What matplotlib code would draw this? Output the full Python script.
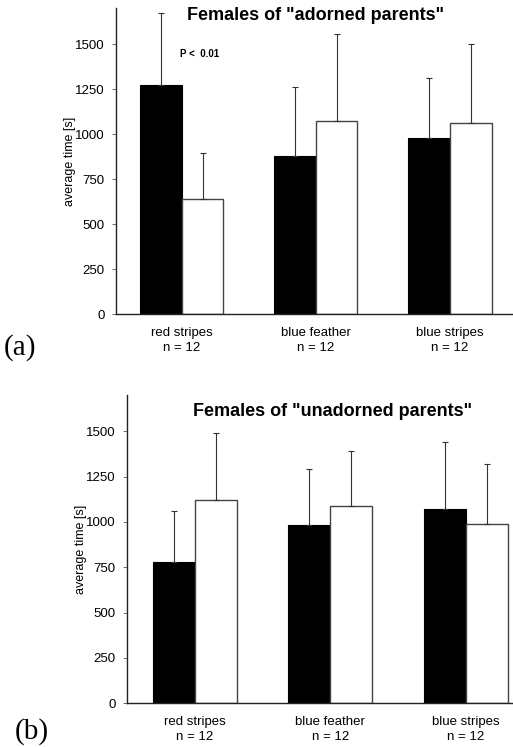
import matplotlib
matplotlib.use("Agg")
import matplotlib.pyplot as plt
import numpy as np

plt.rcParams['font.family'] = ['Liberation Sans', 'DejaVu Sans']

categories = ["red stripes\nn = 12", "blue feather\nn = 12", "blue stripes\nn = 12"]
yticks = [0, 250, 500, 750, 1000, 1250, 1500]

# panel (a): Females of "adorned parents"
a_black = [1270, 881, 981]
a_black_err = [402, 382, 332]
a_white = [642, 1074, 1061]
a_white_err = [256, 479, 441]

# panel (b): Females of "unadorned parents"
b_black = [778, 981, 1069]
b_black_err = [280, 309, 372]
b_white = [1119, 1086, 990]
b_white_err = [372, 305, 330]

fig = plt.figure(figsize=(5.13, 7.47), dpi=100)

def panel(rect, black, black_err, white, white_err, title, title_xy, xlim, label, label_xy, ylabel_x):
    ax = fig.add_axes(rect)
    x = np.arange(len(categories))
    w = 0.31
    ekw = dict(elinewidth=0.8, ecolor='#333333', capsize=2, capthick=0.8)
    ax.bar(x - w / 2, black, w, color='black', edgecolor='black', linewidth=0.8,
           yerr=[np.zeros(3), black_err], error_kw=ekw, zorder=2)
    ax.bar(x + w / 2, white, w, color='white', edgecolor='#444444', linewidth=1.0,
           yerr=[np.zeros(3), white_err], error_kw=ekw, zorder=2)
    ax.set_ylim(0, 1700)
    ax.set_xlim(*xlim)
    ax.set_yticks(yticks)
    ax.set_yticklabels([str(t) for t in yticks], fontsize=9.5)
    ax.set_xticks(x)
    ax.set_xticklabels(categories, fontsize=9.5, linespacing=1.4)
    ax.tick_params(axis='y', length=3, width=0.6, color='#555555', pad=5)
    ax.tick_params(axis='x', length=0, pad=9)
    for s in ['top', 'right']:
        ax.spines[s].set_visible(False)
    for s in ['left', 'bottom']:
        ax.spines[s].set_linewidth(1.0)
        ax.spines[s].set_color('#222222')
    ax.set_ylabel("average time [s]", fontsize=9)
    ax.yaxis.set_label_coords(ylabel_x, 0.5)
    fig.text(title_xy[0], title_xy[1], title, fontsize=13, fontweight='bold',
             ha='center', va='center')
    fig.text(label_xy[0], label_xy[1], label, fontsize=21, family='Liberation Serif',
             ha='left', va='center')
    return ax

axa = panel([116 / 513, 1 - 314.3 / 747, (513 - 116) / 513, (314.3 - 8) / 747],
            a_black, a_black_err, a_white, a_white_err,
            'Females of "adorned parents"', (316 / 513, 1 - 15 / 747),
            (-0.49, 2.47), '(a)', (4 / 513, 1 - 348 / 747), -0.1)
axa.text(0.13, 1446, "P <  0.01", fontsize=7, fontweight='bold', ha='center', va='center')

axb = panel([127 / 513, 1 - 703.3 / 747, (513 - 127) / 513, (703.3 - 395) / 747],
            b_black, b_black_err, b_white, b_white_err,
            'Females of "unadorned parents"', (332.5 / 513, 1 - 411.7 / 747),
            (-0.5, 2.35), '(b)', (15 / 513, 1 - 732 / 747), -0.104)

fig.savefig("out.png", dpi=100)
